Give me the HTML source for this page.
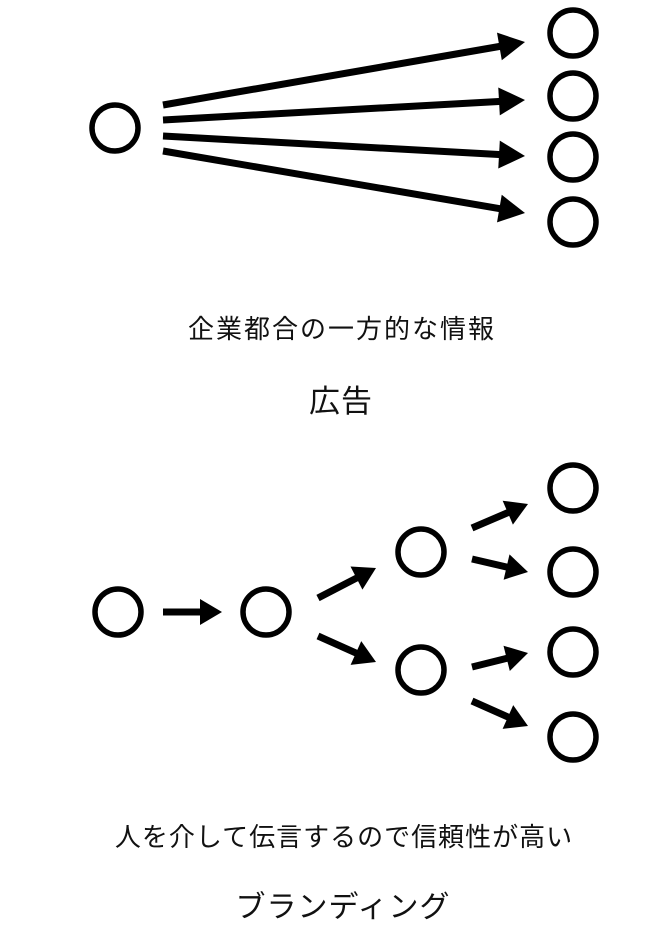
<!DOCTYPE html>
<html><head><meta charset="utf-8"><style>
html,body{margin:0;padding:0;background:#fff;}
svg{display:block;}
text{font-family:"Liberation Sans","Noto Sans CJK JP",sans-serif;fill:#111;}
</style></head><body>
<svg id="s" width="663" height="934" viewBox="0 0 663 934" xmlns="http://www.w3.org/2000/svg">
<g fill="none" stroke="#000" stroke-width="5.5">
<circle cx="115" cy="128" r="23"/>
<circle cx="573" cy="33" r="23"/>
<circle cx="573" cy="96" r="23"/>
<circle cx="573" cy="157" r="23"/>
<circle cx="573" cy="222" r="23"/>
<circle cx="118" cy="612" r="23"/>
<circle cx="266" cy="612" r="23"/>
<circle cx="421" cy="552" r="23"/>
<circle cx="421" cy="670" r="23"/>
<circle cx="573" cy="488" r="23"/>
<circle cx="573" cy="572" r="23"/>
<circle cx="573" cy="652" r="23"/>
<circle cx="573" cy="737" r="23"/>
</g>
<g id="arr"></g>
<text x="342" y="338" font-size="26" letter-spacing="2" text-anchor="middle">企業都合の一方的な情報</text>
<text x="341" y="412" font-size="31" letter-spacing="1" text-anchor="middle">広告</text>
<text x="344" y="846" font-size="26" letter-spacing="1" text-anchor="middle">人を介して伝言するので信頼性が高い</text>
<text x="343" y="917" font-size="30" letter-spacing="1" text-anchor="middle">ブランディング</text>
</svg>
<script>
var A=[[163,105,525,42,26,14],[163,120,525,100,26,14],[163,136,525,156,26,14],[163,151,525,213,26,14],
[163,612,222,612,22,13],[318,598,376,568,22,13],[318,636,376,662,22,13],
[472,528,528,504,22,13],[472,559,528,572,22,13],[472,667,528,653,22,13],[472,701,528,726,22,13]];
var g=document.getElementById('arr'),h='';
A.forEach(function(a){var dx=a[2]-a[0],dy=a[3]-a[1],L=Math.sqrt(dx*dx+dy*dy);dx/=L;dy/=L;
var bx=a[2]-dx*a[4],by=a[3]-dy*a[4],px=-dy*a[5],py=dx*a[5];
h+='<line x1="'+a[0]+'" y1="'+a[1]+'" x2="'+(bx+dx*2)+'" y2="'+(by+dy*2)+'" stroke="#000" stroke-width="7"/>';
h+='<polygon fill="#000" points="'+a[2]+','+a[3]+' '+(bx+px)+','+(by+py)+' '+(bx-px)+','+(by-py)+'"/>';});
g.innerHTML=h;
</script>
</body></html>
